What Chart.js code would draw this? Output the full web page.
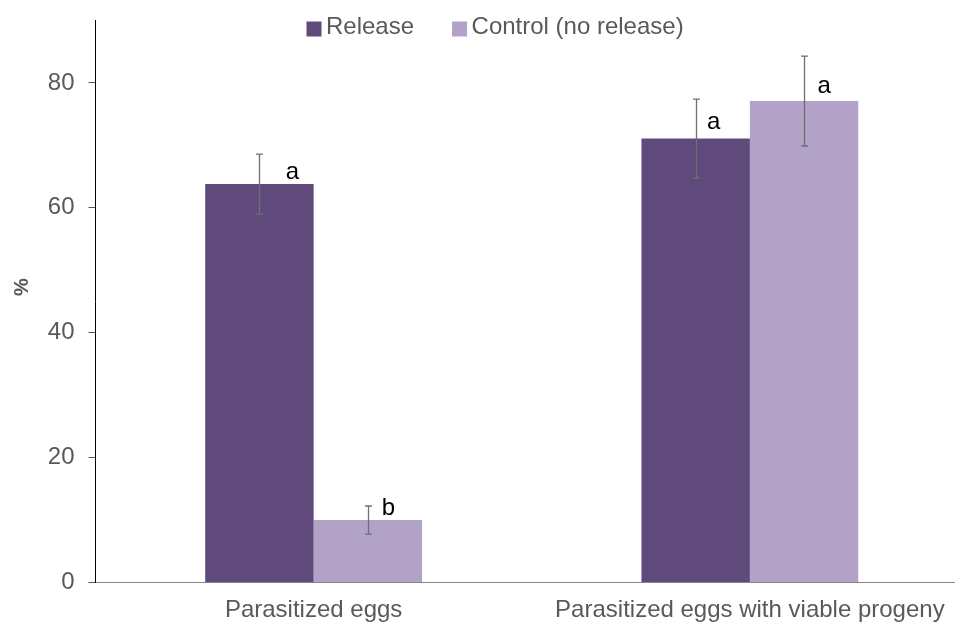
<!DOCTYPE html>
<html>
<head>
<meta charset="utf-8">
<script src="https://cdn.jsdelivr.net/npm/chart.js@4/dist/chart.umd.min.js"></script>
<style>
  html, body { margin: 0; padding: 0; background: #fff; overflow: hidden; }
  #wrap { width: 955px; height: 623px; overflow: hidden; }
</style>
</head>
<body>
<div id="wrap"><canvas id="c" width="968" height="623"></canvas></div>
<script>
// Categories and series (percent)
const categories = ['Parasitized eggs', 'Parasitized eggs with viable progeny'];
const seriesNames = ['Release', 'Control (no release)'];
const releaseValues = [63.8, 71.1];
const controlValues = [10.0, 77.1];
// Error bar half-lengths
const releaseErrors = [4.8, 6.3];
const controlErrors = [2.25, 7.2];
// Significance letters
const releaseLetters = ['a', 'a'];
const controlLetters = ['b', 'a'];
// Y axis ticks
const yTicks = [0, 20, 40, 60, 80];
const yTitle = '%';

const FONT = "'Liberation Sans', Arial, sans-serif";
const DARK = '#604A7B';
const LIGHT = '#B3A2C7';
const TEXT = '#595959';

// Error bars with caps, drawn at each bar centre
const errorBarPlugin = {
  id: 'errorBars',
  afterDatasetsDraw(chart, args, opts) {
    const ctx = chart.ctx;
    const y = chart.scales.y;
    ctx.save();
    ctx.strokeStyle = opts.color;
    ctx.lineWidth = opts.width;
    chart.data.datasets.forEach((ds, di) => {
      const meta = chart.getDatasetMeta(di);
      meta.data.forEach((bar, i) => {
        const v = ds.data[i], e = ds.errors[i];
        const x = Math.round(bar.x) + 0.5;
        const yt = y.getPixelForValue(v + e);
        const yb = y.getPixelForValue(v - e);
        ctx.beginPath();
        ctx.moveTo(x, yt); ctx.lineTo(x, yb);
        ctx.moveTo(x - opts.cap, yt); ctx.lineTo(x + opts.cap, yt);
        ctx.moveTo(x - opts.cap, yb); ctx.lineTo(x + opts.cap, yb);
        ctx.stroke();
      });
    });
    ctx.restore();
  }
};

// Letters placed beside each error bar, just above the bar top
const letterPlugin = {
  id: 'letters',
  afterDatasetsDraw(chart, args, opts) {
    const ctx = chart.ctx;
    const y = chart.scales.y;
    ctx.save();
    ctx.font = opts.font;
    ctx.fillStyle = opts.color;
    ctx.textAlign = 'center';
    ctx.textBaseline = 'alphabetic';
    chart.data.datasets.forEach((ds, di) => {
      const meta = chart.getDatasetMeta(di);
      meta.data.forEach((bar, i) => {
        const off = opts.offsets[di][i];
        ctx.fillText(ds.letters[i], bar.x + off[0], y.getPixelForValue(ds.data[i]) + off[1]);
      });
    });
    ctx.restore();
  }
};

// Legend row with square swatches, plus the rotated y axis title
const legendPlugin = {
  id: 'squareLegend',
  afterDraw(chart, args, opts) {
    const ctx = chart.ctx;
    ctx.save();
    ctx.font = opts.font;
    ctx.textBaseline = 'alphabetic';
    ctx.textAlign = 'left';
    let x = opts.left;
    chart.data.datasets.forEach(ds => {
      ctx.fillStyle = ds.backgroundColor;
      ctx.fillRect(x, opts.top, opts.box, opts.box);
      x += opts.box + opts.textGap;
      ctx.fillStyle = opts.color;
      ctx.fillText(ds.label, x, opts.baseline);
      x += ctx.measureText(ds.label).width + opts.itemGap;
    });
    // y axis title
    ctx.translate(opts.titleX, opts.titleY);
    ctx.rotate(-Math.PI / 2);
    ctx.font = opts.titleFont;
    ctx.fillStyle = opts.color;
    ctx.textAlign = 'center';
    ctx.textBaseline = 'middle';
    ctx.fillText(yTitle, 0, 0);
    ctx.restore();
  }
};

new Chart(document.getElementById('c'), {
  type: 'bar',
  data: {
    labels: categories,
    datasets: [
      { label: seriesNames[0], data: releaseValues, errors: releaseErrors, letters: releaseLetters,
        backgroundColor: DARK, borderWidth: 0 },
      { label: seriesNames[1], data: controlValues, errors: controlErrors, letters: controlLetters,
        backgroundColor: LIGHT, borderWidth: 0 }
    ]
  },
  options: {
    responsive: false,
    animation: false,
    events: [],
    layout: { padding: { top: 20.5, left: 0, right: 0, bottom: 0 } },
    datasets: { bar: { categoryPercentage: 0.497, barPercentage: 1.0 } },
    plugins: {
      legend: { display: false },
      tooltip: { enabled: false },
      errorBars: { color: '#6F6F6F', width: 1.3, cap: 3.5 },
      letters: {
        font: '24px ' + FONT,
        color: '#000',
        offsets: [[[33, -5], [18, -10]], [[20.5, -5], [20, -8]]]
      },
      squareLegend: {
        font: '24px ' + FONT, color: TEXT,
        left: 306.5, top: 21.5, box: 15, textGap: 4.5, itemGap: 38, baseline: 33.5,
        titleFont: 'bold 20px ' + FONT, titleX: 22, titleY: 287
      }
    },
    scales: {
      x: {
        grid: { display: false, drawTicks: false },
        border: { display: true, color: '#868686', width: 1 },
        ticks: { color: TEXT, font: { family: FONT, size: 24 }, padding: 13, maxRotation: 0, autoSkip: false },
        afterFit(s) { s.height = 40.5; s.paddingLeft = 0; s.paddingRight = 0; }
      },
      y: {
        min: 0, max: 90,
        afterBuildTicks(s) { s.ticks = yTicks.map(v => ({ value: v })); },
        ticks: { color: TEXT, font: { family: FONT, size: 24 }, padding: 14, includeBounds: false },
        grid: { drawOnChartArea: false, drawTicks: true, tickLength: 7, color: '#595959' },
        border: { display: true, color: '#000', width: 1 },
        title: { display: false },
        afterFit(s) { s.width = 95.5; s.paddingTop = 0; s.paddingBottom = 0; }
      }
    }
  },
  plugins: [errorBarPlugin, letterPlugin, legendPlugin]
});
</script>
</body>
</html>
